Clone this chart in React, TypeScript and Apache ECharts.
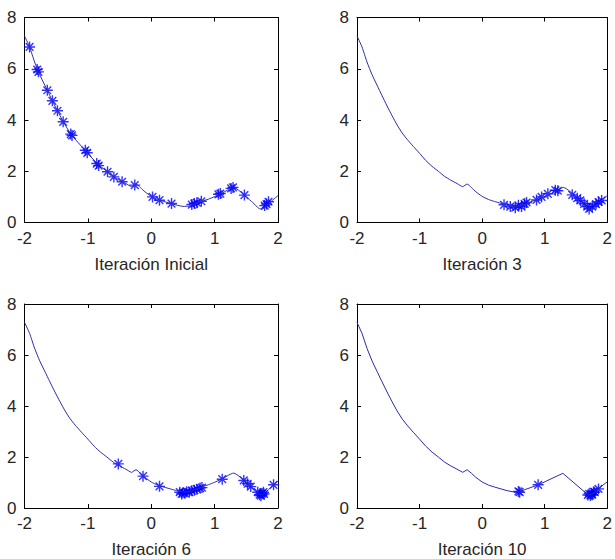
import React, { useEffect, useRef } from "react";
import * as echarts from "echarts";

// Function curve
const curveX = [-2, -1.92, -1.84, -1.76, -1.68, -1.6, -1.52, -1.44, -1.36, -1.28, -1.2, -1.1, -1.0, -0.9, -0.8, -0.7, -0.6, -0.5, -0.4, -0.31, -0.24, -0.17, -0.1, 0, 0.1, 0.2, 0.3, 0.4, 0.5, 0.6, 0.7, 0.8, 0.9, 1.0, 1.1, 1.2, 1.3, 1.4, 1.5, 1.6, 1.7, 1.75, 1.8, 1.9, 2.0];
const curveY = [7.28, 6.85, 6.26, 5.77, 5.36, 4.95, 4.55, 4.17, 3.81, 3.5, 3.25, 2.97, 2.7, 2.42, 2.19, 2.0, 1.8, 1.65, 1.52, 1.4, 1.5, 1.36, 1.2, 1.02, 0.9, 0.82, 0.75, 0.68, 0.63, 0.64, 0.73, 0.83, 0.91, 1.01, 1.12, 1.26, 1.37, 1.22, 1.0, 0.78, 0.55, 0.52, 0.6, 0.84, 1.05];

// Curve as drawn in iteration 10 (coarser on the right side)
const curve10X = [-2, -1.92, -1.84, -1.76, -1.68, -1.6, -1.52, -1.44, -1.36, -1.28, -1.2, -1.1, -1.0, -0.9, -0.8, -0.7, -0.6, -0.5, -0.4, -0.31, -0.24, -0.17, -0.1, 0, 0.1, 0.2, 0.3, 0.4, 0.5, 0.58, 0.9, 1.29, 1.69, 1.75, 1.86, 2.0];
const curve10Y = [7.28, 6.85, 6.26, 5.77, 5.36, 4.95, 4.55, 4.17, 3.81, 3.5, 3.25, 2.97, 2.7, 2.42, 2.19, 2.0, 1.8, 1.65, 1.52, 1.4, 1.5, 1.36, 1.2, 1.02, 0.9, 0.82, 0.75, 0.68, 0.63, 0.63, 0.91, 1.36, 0.52, 0.52, 0.76, 1.03];

// Population markers
const initX = [-1.92, -1.8, -1.78, -1.64, -1.56, -1.48, -1.39, -1.27, -1.25, -1.04, -1.01, -0.86, -0.83, -0.69, -0.59, -0.46, -0.26, 0.02, 0.13, 0.32, 0.64, 0.68, 0.72, 0.79, 1.06, 1.09, 1.26, 1.29, 1.47, 1.79, 1.82, 1.85];
const initY = [6.85, 5.97, 5.88, 5.16, 4.75, 4.36, 3.93, 3.45, 3.4, 2.82, 2.72, 2.3, 2.22, 1.98, 1.78, 1.59, 1.46, 1.0, 0.87, 0.74, 0.7, 0.74, 0.77, 0.83, 1.1, 1.13, 1.33, 1.37, 1.07, 0.66, 0.72, 0.81];

const it3X = [0.35, 0.45, 0.53, 0.58, 0.63, 0.68, 0.71, 0.87, 0.95, 1.05, 1.17, 1.21, 1.44, 1.52, 1.57, 1.63, 1.68, 1.71, 1.76, 1.82, 1.86, 1.91];
const it3Y = [0.69, 0.62, 0.58, 0.67, 0.62, 0.73, 0.78, 0.88, 1.0, 1.12, 1.26, 1.24, 1.08, 0.95, 0.86, 0.73, 0.62, 0.53, 0.62, 0.72, 0.8, 0.86];

const it6X = [-0.52, -0.13, 0.13, 0.45, 0.48, 0.5, 0.53, 0.56, 0.6, 0.64, 0.68, 0.72, 0.77, 0.8, 1.12, 1.46, 1.52, 1.57, 1.68, 1.71, 1.73, 1.75, 1.77, 1.78, 1.93];
const it6Y = [1.73, 1.25, 0.85, 0.62, 0.55, 0.6, 0.58, 0.64, 0.62, 0.68, 0.7, 0.74, 0.78, 0.8, 1.13, 1.08, 0.95, 0.84, 0.62, 0.52, 0.48, 0.56, 0.62, 0.55, 0.91];

const it10X = [0.58, 0.6, 0.895, 1.69, 1.71, 1.73, 1.75, 1.76, 1.78, 1.8, 1.86];
const it10Y = [0.65, 0.62, 0.91, 0.51, 0.56, 0.49, 0.55, 0.52, 0.64, 0.62, 0.75];

const titles = ["Iteración Inicial", "Iteración 3", "Iteración 6", "Iteración 10"];
const xTicks = { min: -2, max: 2, interval: 1 };
const yTicks = { min: 0, max: 8, interval: 2 };

const zip = (xs: number[], ys: number[]) => xs.map((x, i) => [x, ys[i]]);

const ASTERISK = "path://M5,0L5,10M0,5L10,5M1.5,1.5L8.5,8.5M1.5,8.5L8.5,1.5";

export default function App() {
  const ref = useRef<HTMLDivElement>(null);
  useEffect(() => {
    if (!ref.current) return;
    const chart = echarts.init(ref.current, null, { renderer: "svg" });
    const grids = [
      { left: 24.5, top: 17.5, width: 253.5, height: 205 },
      { left: 357, top: 17.5, width: 255, height: 205 },
      { left: 24.5, top: 304, width: 253.5, height: 205.3 },
      { left: 357, top: 304, width: 255, height: 205.3 },
    ];
    const font = "'Liberation Sans', Arial, sans-serif";
    const textColor = "#262626";
    const lines = [zip(curveX, curveY), zip(curveX, curveY), zip(curveX, curveY), zip(curve10X, curve10Y)];
    const smooths = [0.2, 0.2, 0.2, 0];
    const marks = [zip(initX, initY), zip(it3X, it3Y), zip(it6X, it6Y), zip(it10X, it10Y)];
    const xAxis: any[] = [];
    const yAxis: any[] = [];
    const series: any[] = [];
    grids.forEach((g, i) => {
      const common = {
        gridIndex: i,
        type: "value",
        splitLine: { show: false },
        axisLine: { show: true, onZero: false, lineStyle: { color: "#000", width: 1 } },
        axisTick: { show: true, inside: true, length: 4, lineStyle: { color: "#000" } },
      };
      xAxis.push({
        ...common,
        ...xTicks,
        position: "bottom",
        axisLabel: { fontSize: 17, color: textColor, fontFamily: font, margin: 7 },
        name: titles[i],
        nameLocation: "middle",
        nameGap: 33,
        nameTextStyle: { fontSize: 17, color: textColor, fontFamily: font },
      });
      xAxis.push({ ...common, ...xTicks, position: "top", axisLabel: { show: false } });
      yAxis.push({
        ...common,
        ...yTicks,
        position: "left",
        axisLabel: { fontSize: 17, color: textColor, fontFamily: font, margin: 8 },
      });
      yAxis.push({ ...common, ...yTicks, position: "right", axisLabel: { show: false } });
      series.push({
        type: "line",
        xAxisIndex: 2 * i,
        yAxisIndex: 2 * i,
        data: lines[i],
        showSymbol: false,
        smooth: smooths[i],
        lineStyle: { color: "#2b2ba8", width: 1 },
        silent: true,
      });
      series.push({
        type: "scatter",
        xAxisIndex: 2 * i,
        yAxisIndex: 2 * i,
        data: marks[i],
        symbol: ASTERISK,
        symbolSize: 11,
        itemStyle: { color: "#0000ff", borderColor: "#0000ff", borderWidth: 1.4 },
      });
    });
    chart.setOption({
      animation: false,
      backgroundColor: "#fff",
      grid: grids,
      xAxis,
      yAxis,
      series,
    });
    return () => chart.dispose();
  }, []);
  return <div ref={ref} style={{ position: "absolute", left: 0, top: 0, width: 615, height: 559 }} />;
}
